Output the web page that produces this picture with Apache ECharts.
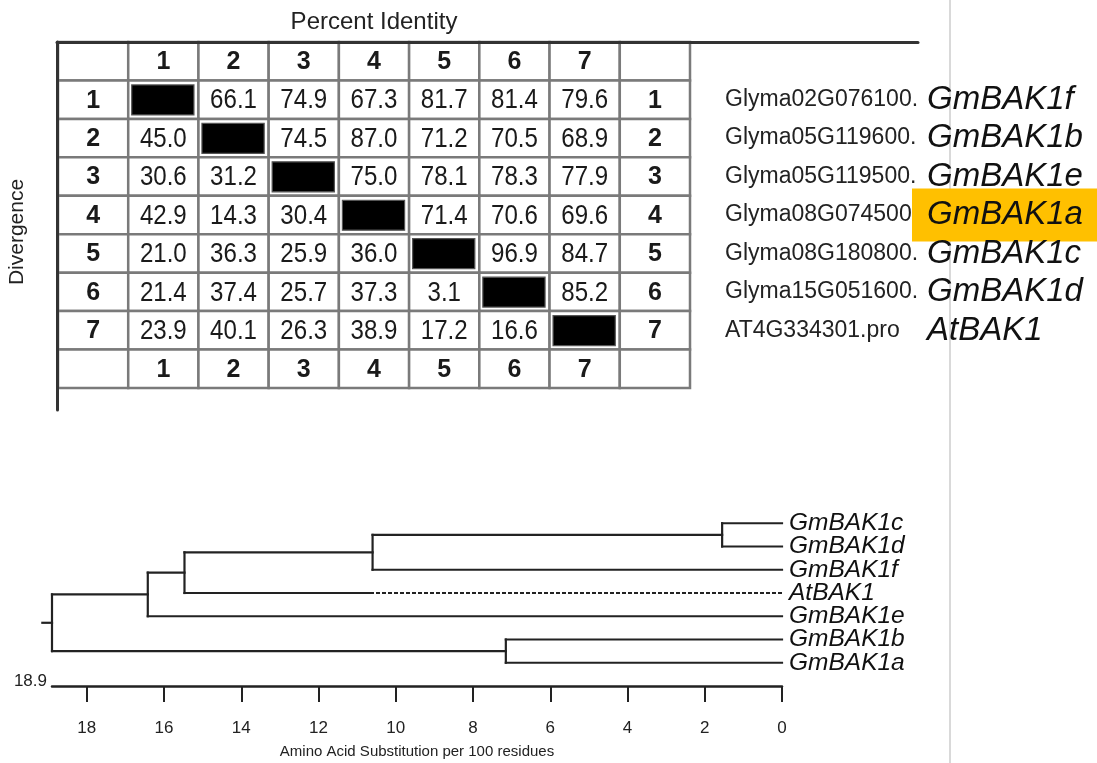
<!DOCTYPE html>
<html>
<head>
<meta charset="utf-8">
<script src="https://cdn.jsdelivr.net/npm/echarts@6/dist/echarts.min.js"></script>
<style>
html,body{margin:0;padding:0;background:#fff;}
#chart{width:1097px;height:763px;}
</style>
</head>
<body>
<div id="chart"></div>
<script>
// ---------------- data ----------------
const seqIndex = ['1', '2', '3', '4', '5', '6', '7'];
// upper triangle: percent identity, lower triangle: divergence
const row1 = [null, 66.1, 74.9, 67.3, 81.7, 81.4, 79.6];
const row2 = [45.0, null, 74.5, 87.0, 71.2, 70.5, 68.9];
const row3 = [30.6, 31.2, null, 75.0, 78.1, 78.3, 77.9];
const row4 = [42.9, 14.3, 30.4, null, 71.4, 70.6, 69.6];
const row5 = [21.0, 36.3, 25.9, 36.0, null, 96.9, 84.7];
const row6 = [21.4, 37.4, 25.7, 37.3, 3.1, null, 85.2];
const row7 = [23.9, 40.1, 26.3, 38.9, 17.2, 16.6, null];
const matrix = [row1, row2, row3, row4, row5, row6, row7];

const seqIds = ['Glyma02G076100.', 'Glyma05G119600.', 'Glyma05G119500.', 'Glyma08G074500.', 'Glyma08G180800.', 'Glyma15G051600.', 'AT4G334301.pro'];
const seqGenes = ['GmBAK1f', 'GmBAK1b', 'GmBAK1e', 'GmBAK1a', 'GmBAK1c', 'GmBAK1d', 'AtBAK1'];
const highlightGene = 'GmBAK1a';

// phylogenetic tree
const leafNames = ['GmBAK1c', 'GmBAK1d', 'GmBAK1f', 'AtBAK1', 'GmBAK1e', 'GmBAK1b', 'GmBAK1a'];
const nodeNames = ['cd', 'cdf', 'cdfAt', 'cdfAtE', 'ba', 'root'];
const nodeChildA = ['GmBAK1c', 'cd', 'cdf', 'cdfAt', 'GmBAK1b', 'cdfAtE'];
const nodeChildB = ['GmBAK1d', 'GmBAK1f', 'AtBAK1', 'GmBAK1e', 'GmBAK1a', 'ba'];
const nodeHeights = [1.55, 10.6, 15.47, 16.42, 7.15, 18.9];
const dashedLeaf = 'AtBAK1';
const dashedFrom = 10.6;
const rootHeight = 18.9;
const rootStub = 0.25;
const axisTickValues = [0, 2, 4, 6, 8, 10, 12, 14, 16, 18];

// ---------------- build ----------------
const SANS = "'Liberation Sans', Arial, Helvetica, sans-serif";

const colCats = [''].concat(seqIndex, [' ']);
const rowCats = [''].concat(seqIndex, [' ']);

const cells = [];
for (let r = 0; r < 9; r++) {
  for (let c = 0; c < 9; c++) {
    const edgeRow = r === 0 || r === 8;
    const edgeCol = c === 0 || c === 8;
    let kind = 'empty', text = '';
    if (edgeRow && edgeCol) { kind = 'empty'; }
    else if (edgeRow) { kind = 'head'; text = seqIndex[c - 1]; }
    else if (edgeCol) { kind = 'head'; text = seqIndex[r - 1]; }
    else {
      const v = matrix[r - 1][c - 1];
      if (v === null) kind = 'black';
      else { kind = 'num'; text = v.toFixed(1); }
    }
    cells.push({ value: [c, r], kind: kind, text: text });
  }
}

const rightLabels = [''].concat(seqIds.map(function (id, i) {
  if (seqGenes[i] === highlightGene) return '{g2|' + id + '}{hl|' + seqGenes[i] + '}';
  return '{g|' + id + '}{m|' + seqGenes[i] + '}';
}), [' ']);

// tree segments
const pos = {};
leafNames.forEach(function (n, i) { pos[n] = { x: 0, y: i }; });
const segs = [];
nodeNames.forEach(function (name, k) {
  const a = pos[nodeChildA[k]], b = pos[nodeChildB[k]], h = nodeHeights[k];
  pos[name] = { x: h, y: (a.y + b.y) / 2 };
  segs.push([h, a.y, h, b.y, 0]);
  [nodeChildA[k], nodeChildB[k]].forEach(function (ch) {
    const p = pos[ch];
    if (ch === dashedLeaf) {
      segs.push([p.x, p.y, dashedFrom, p.y, 1]);
      segs.push([dashedFrom, p.y, h, p.y, 0]);
    } else {
      segs.push([p.x, p.y, h, p.y, 0]);
    }
  });
});
const rootPos = pos['root'];
segs.push([rootPos.x, rootPos.y, rootPos.x + rootStub, rootPos.y, 0]);

function tableRender(params, api) {
  const cell = cells[params.dataIndex];
  const p = api.coord([cell.value[0], cell.value[1]]);
  const s = api.size([1, 1]);
  const x0 = p[0] - s[0] / 2, y0 = p[1] - s[1] / 2;
  const children = [{
    type: 'rect',
    shape: { x: x0, y: y0, width: s[0], height: s[1] },
    style: { fill: '#fff', stroke: '#7a7a7a', lineWidth: 2.5 }
  }];
  if (cell.kind === 'black') {
    children.push({
      type: 'rect',
      shape: { x: x0 + 3.5, y: y0 + 4.5, width: s[0] - 8, height: s[1] - 8.5 },
      style: { fill: '#000', stroke: '#555', lineWidth: 1.2 }
    });
  } else if (cell.text) {
    const head = cell.kind === 'head';
    children.push({
      type: 'text',
      x: p[0], y: p[1] + 1,
      scaleX: head ? 1 : 0.86,
      style: {
        text: cell.text, x: 0, y: 0, align: 'center', verticalAlign: 'middle',
        fill: '#1a1a1a', fontSize: head ? 25 : 28, fontWeight: head ? 'bold' : 'normal',
        fontFamily: SANS
      }
    });
  }
  return { type: 'group', children: children };
}

function treeRender(params, api) {
  const a = api.coord([api.value(0), api.value(1)]);
  const b = api.coord([api.value(2), api.value(3)]);
  const dashed = api.value(4) === 1;
  return {
    type: 'line',
    shape: { x1: a[0], y1: a[1], x2: b[0], y2: b[1] },
    style: { stroke: '#222', lineWidth: 2.2, lineDash: dashed ? [4, 2] : null, lineCap: dashed ? 'butt' : 'square' }
  };
}

function leafRender(params, api) {
  const p = api.coord([api.value(0), api.value(1)]);
  return {
    type: 'text',
    x: p[0] + 7, y: p[1],
    style: {
      text: leafNames[params.dataIndex], x: 0, y: 0, align: 'left', verticalAlign: 'middle',
      fill: '#111', fontSize: 24.5, fontStyle: 'italic', fontFamily: SANS
    }
  };
}

const chart = echarts.init(document.getElementById('chart'), null, { renderer: 'canvas' });
chart.setOption({
  backgroundColor: '#ffffff',
  animation: false,
  textStyle: { fontFamily: SANS },
  graphic: [{
    type: 'line', z: -10,
    shape: { x1: 950, y1: 0, x2: 950, y2: 763 },
    style: { stroke: '#cccccc', lineWidth: 1.5 }
  }],
  grid: [
    { left: 58, top: 42, width: 632, height: 346, outerBoundsMode: 'none', containLabel: false },
    { left: 57, top: 42, width: 861, height: 368, outerBoundsMode: 'none', containLabel: false },
    { left: 52, top: 500, width: 730, height: 186, outerBoundsMode: 'none', containLabel: false }
  ],
  xAxis: [
    {
      gridIndex: 0, type: 'category', data: colCats, position: 'top',
      name: 'Percent Identity', nameLocation: 'middle', nameGap: 8,
      nameTextStyle: { fontSize: 24, fontFamily: SANS, color: '#222' },
      axisLine: { show: false }, axisTick: { show: false }, axisLabel: { show: false }, splitLine: { show: false }
    },
    {
      gridIndex: 1, type: 'value', min: 0, max: 1, position: 'top', z: 5,
      axisLine: { show: true, onZero: false, lineStyle: { color: '#333', width: 3 } },
      axisTick: { show: false }, axisLabel: { show: false }, splitLine: { show: false }
    },
    {
      gridIndex: 2, type: 'value', inverse: true, min: 0, max: rootHeight, interval: 2, position: 'bottom',
      axisLine: { show: true, onZero: false, lineStyle: { color: '#222', width: 2.5 } },
      axisTick: { show: true, length: 16, customValues: axisTickValues, lineStyle: { color: '#222', width: 2 } },
      axisLabel: { customValues: axisTickValues, margin: 34, fontSize: 17, fontFamily: SANS, color: '#222' },
      splitLine: { show: false },
      name: 'Amino Acid Substitution per 100 residues', nameLocation: 'middle', nameGap: 58,
      nameTextStyle: { fontSize: 15, fontFamily: SANS, color: '#222' }
    }
  ],
  yAxis: [
    { gridIndex: 0, type: 'category', data: rowCats, inverse: true, show: false },
    {
      gridIndex: 0, type: 'category', data: rightLabels, inverse: true, position: 'right',
      axisLine: { show: false }, axisTick: { show: false }, splitLine: { show: false },
      axisLabel: {
        interval: 0, margin: 35, align: 'left',
        rich: {
          g: { fontSize: 23, fontFamily: SANS, color: '#222', width: 202 },
          g2: { fontSize: 23, fontFamily: SANS, color: '#222', width: 187 },
          m: { fontSize: 33, fontFamily: SANS, fontStyle: 'italic', color: '#111' },
          hl: { fontSize: 33, fontFamily: SANS, fontStyle: 'italic', color: '#111', backgroundColor: '#FFC000', padding: [10, 40, 10, 15] }
        }
      }
    },
    {
      gridIndex: 1, type: 'value', min: 0, max: 1, position: 'left', z: 5,
      axisLine: { show: true, onZero: false, lineStyle: { color: '#333', width: 3 } },
      axisTick: { show: false }, axisLabel: { show: false }, splitLine: { show: false },
      name: 'Divergence', nameLocation: 'middle', nameRotate: 90, nameGap: 29,
      nameTextStyle: { fontSize: 21, fontFamily: SANS, color: '#222', padding: [0, 12, 0, 0] }
    },
    {
      gridIndex: 2, type: 'value', min: -1, max: 7, inverse: true,
      axisLine: { show: false }, axisTick: { show: false }, splitLine: { show: false },
      axisLabel: {
        customValues: [7], formatter: function () { return rootHeight.toFixed(1); },
        margin: 5, verticalAlign: 'bottom', lineHeight: 10, fontSize: 17, fontFamily: SANS, color: '#222'
      }
    }
  ],
  series: [
    {
      type: 'custom', xAxisIndex: 0, yAxisIndex: 0, z: 2,
      renderItem: tableRender,
      encode: { x: 0, y: 1 },
      data: cells.map(function (c) { return c.value; })
    },
    {
      type: 'custom', xAxisIndex: 2, yAxisIndex: 3, clip: false,
      renderItem: treeRender,
      encode: { x: [0, 2], y: [1, 3] },
      data: segs
    },
    {
      type: 'custom', xAxisIndex: 2, yAxisIndex: 3, clip: false,
      renderItem: leafRender,
      encode: { x: 0, y: 1 },
      data: leafNames.map(function (n, i) { return [0, i]; })
    }
  ]
});
</script>
</body>
</html>
